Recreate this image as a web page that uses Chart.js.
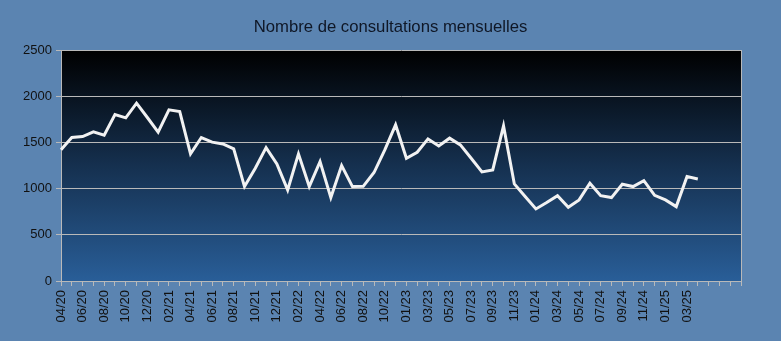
<!DOCTYPE html>
<html>
<head>
<meta charset="utf-8">
<title>Consultations mensuelles</title>
<script src="https://cdn.jsdelivr.net/npm/chart.js@4"></script>
<style>
    html, body { margin: 0; padding: 0; background: #5b84b1; }
    #wrap { width: 781px; height: 341px; }
</style>
</head>
<body>
<div id="wrap"><canvas id="chart" width="781" height="341"></canvas></div>
<script>
// months (one month is missing in the export between 10/22 and 01/23)
const months = [
    '04/20', '05/20', '06/20', '07/20', '08/20', '09/20', '10/20', '11/20', '12/20',
    '01/21', '02/21', '03/21', '04/21', '05/21', '06/21', '07/21', '08/21', '09/21', '10/21', '11/21', '12/21',
    '01/22', '02/22', '03/22', '04/22', '05/22', '06/22', '07/22', '08/22', '09/22', '10/22', '11/22',
    '01/23', '02/23', '03/23', '04/23', '05/23', '06/23', '07/23', '08/23', '09/23', '10/23', '11/23', '12/23',
    '01/24', '02/24', '03/24', '04/24', '05/24', '06/24', '07/24', '08/24', '09/24', '10/24', '11/24', '12/24',
    '01/25', '02/25', '03/25', '04/25',
    '', '', '', ''
];

const consultations = [
    1420, 1553, 1563, 1614, 1578, 1802, 1766, 1925, 1770,
    1611, 1853, 1834, 1376, 1553, 1503, 1484, 1430, 1022, 1221, 1444, 1268,
    986, 1376, 1022, 1293, 903, 1249, 1022, 1025, 1174, 1419, 1690,
    1329, 1394, 1538, 1462, 1546, 1473, 1329, 1181, 1203, 1679, 1051, 914,
    780, 849, 924, 798, 878, 1058, 924, 903, 1047, 1022, 1087, 928,
    878, 805, 1130, 1105
];

const yTicks = [0, 500, 1000, 1500, 2000, 2500];

const axisGrey = '#b9b9b9';
const labelColor = '#111111';

// page background + dark gradient behind the plot + right border
const plotBackground = {
    id: 'plotBackground',
    beforeDraw(chart) {
        const {ctx, chartArea: a, width, height} = chart;
        ctx.save();
        ctx.fillStyle = '#5b84b1';
        ctx.fillRect(0, 0, width, height);
        const g = ctx.createLinearGradient(0, a.top, 0, a.bottom);
        g.addColorStop(0, '#000000');
        g.addColorStop(0.5, '#15304f');
        g.addColorStop(1, '#295e98');
        ctx.fillStyle = g;
        ctx.fillRect(a.left, a.top, a.right - a.left, a.bottom - a.top);
        ctx.restore();
    },
    afterDatasetsDraw(chart) {
        const {ctx, chartArea: a} = chart;
        ctx.save();
        ctx.strokeStyle = axisGrey;
        ctx.lineWidth = 1;
        ctx.beginPath();
        ctx.moveTo(a.right + 0.5, a.top);
        ctx.lineTo(a.right + 0.5, a.bottom);
        ctx.stroke();
        ctx.restore();
    }
};

const ctx = document.getElementById('chart').getContext('2d');
new Chart(ctx, {
    type: 'line',
    data: {
        labels: months,
        datasets: [{
            label: 'Consultations',
            data: consultations,
            borderColor: '#f2f2f2',
            borderWidth: 3,
            pointRadius: 0,
            tension: 0,
            fill: false
        }]
    },
    options: {
        responsive: false,
        animation: false,
        events: [],
        layout: { padding: 0 },
        plugins: {
            legend: { display: false },
            tooltip: { enabled: false },
            title: {
                display: true,
                text: 'Nombre de consultations mensuelles',
                color: '#0f1726',
                font: { family: 'Liberation Sans', size: 16.7, weight: 'normal', lineHeight: 1.2 },
                padding: { top: 17.8, bottom: 12.2 }
            }
        },
        scales: {
            x: {
                offset: false,
                grid: {
                    drawOnChartArea: false,
                    drawTicks: true,
                    tickLength: 5,
                    color: axisGrey
                },
                border: { color: axisGrey, width: 1 },
                ticks: {
                    autoSkip: false,
                    minRotation: 90,
                    maxRotation: 90,
                    padding: 4,
                    color: labelColor,
                    font: { family: 'Liberation Sans', size: 13 },
                    callback: (v, i) => (i % 2 === 0 ? months[i] : '')
                },
                afterFit(scale) { scale.height = 60; }
            },
            y: {
                min: 0,
                max: 2500,
                afterBuildTicks(scale) { scale.ticks = yTicks.map(v => ({ value: v })); },
                grid: {
                    color: axisGrey,
                    tickLength: 5,
                    lineWidth: 1
                },
                border: { color: axisGrey, width: 1 },
                ticks: {
                    padding: 4,
                    color: labelColor,
                    font: { family: 'Liberation Sans', size: 13 },
                    callback: v => String(v)
                },
                afterFit(scale) { scale.width = 61; }
            },
            // empty right margin so the title stays centred on the page
            yRight: {
                position: 'right',
                grid: { display: false },
                border: { display: false },
                ticks: { display: false },
                afterFit(scale) { scale.width = 40; }
            }
        }
    },
    plugins: [plotBackground]
});
</script>
</body>
</html>
